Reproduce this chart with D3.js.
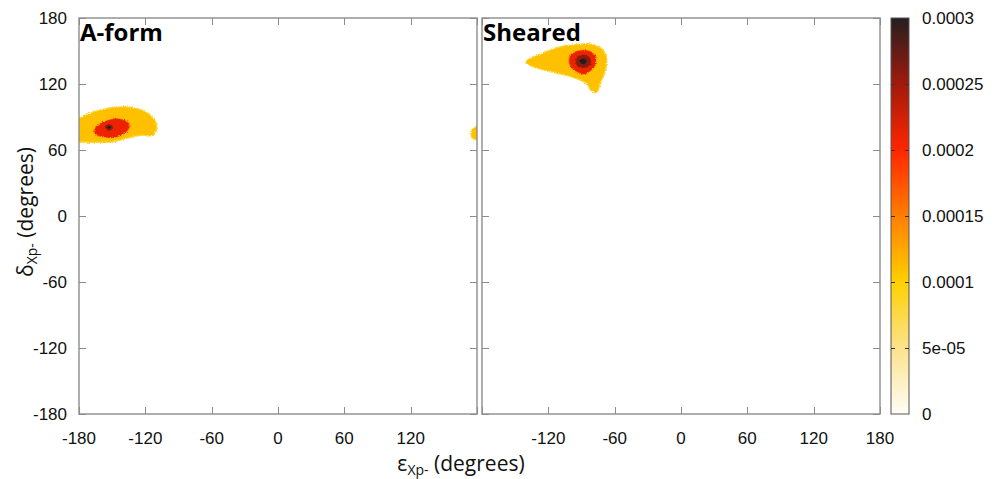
<!DOCTYPE html>
<html>
<head>
<meta charset="utf-8">
<script src="https://cdn.jsdelivr.net/npm/d3@7"></script>
<style>
  html, body { margin: 0; padding: 0; background: #fff; }
  svg { display: block; }
</style>
</head>
<body>
<svg id="chart" width="995" height="479"></svg>
<script>
// ---- Data -------------------------------------------------------------
// Density contours (epsilon, delta in degrees) with the density level each encloses.
const aformOuter = [[-186, 87], [-180, 88.5], [-165, 94.5], [-147, 98.3], [-129, 97.5], [-118, 93],
  [-111, 85], [-110.5, 78], [-115, 73.5], [-123, 74], [-137, 71], [-152, 67.8], [-167, 67.6], [-180, 68], [-186, 68]];
const aformWrap = [[186, 81], [179, 80.5], [176, 78], [175, 74.5], [176.3, 71.2], [179, 69.8], [186, 69.5]];
const aformRed = [[-166, 77.8], [-161, 83.8], [-150, 88], [-141, 87.6], [-134.6, 83.4], [-135.8, 78.2],
  [-146, 71.8], [-157, 71.8], [-163.5, 73.6]];
const aformDark = [[-156.5, 81.5], [-153, 83.3], [-149.5, 81.5], [-150.5, 78.5], [-154.5, 78]];
const aformCore = [[-154.3, 80.8], [-152.6, 81.8], [-151.2, 80.4], [-152.8, 79.3]];

const shearedOuter = [[-140, 140], [-128, 146.2], [-117, 150.8], [-107.5, 153.6], [-96.8, 155], [-82.3, 155.9],
  [-73.3, 152.7], [-68.1, 145.5], [-67.8, 138.2], [-69.6, 130], [-73.3, 121.8], [-76.5, 113], [-81, 114.5],
  [-85, 120.9], [-96.8, 126.4], [-108.5, 129.5], [-121.2, 132.7], [-133, 136]];
const shearedRed = [[-100.4, 145.5], [-95.9, 149.1], [-88.6, 150.5], [-81.4, 149.1], [-77.3, 144.5],
  [-77.8, 137.3], [-82.3, 131.8], [-87.7, 129.1], [-95, 131.8], [-100.4, 137.3]];
const shearedDark = [[-95, 142.5], [-89, 146.5], [-82.5, 144], [-82, 137.5], [-88, 134.5], [-94, 136.5]];
const shearedCore = [[-91.5, 141.5], [-88.5, 143.2], [-85.5, 141.5], [-86.5, 138.5], [-90, 138.3]];

const aformContours = [
  { level: 0.00011, pts: aformOuter, edge: true },
  { level: 0.00011, pts: aformWrap, edge: true },
  { level: 0.00015, pts: aformRed, grow: 1.06 },
  { level: 0.00021, pts: aformRed },
  { level: 0.00026, pts: aformDark },
  { level: 0.00030, pts: aformCore }
];
const shearedContours = [
  { level: 0.00011, pts: shearedOuter, edge: true },
  { level: 0.00015, pts: shearedRed, grow: 1.06 },
  { level: 0.00021, pts: shearedRed },
  { level: 0.00026, pts: shearedDark },
  { level: 0.00030, pts: shearedCore }
];

const panelTitles = ["A-form", "Sheared"];
const yTicks = [-180, -120, -60, 0, 60, 120, 180];
const xTicksLeft = [-180, -120, -60, 0, 60, 120];
const xTicksRight = [-120, -60, 0, 60, 120, 180];
const cbTicks = [0, 0.00005, 0.0001, 0.00015, 0.0002, 0.00025, 0.0003];
const cbLabels = ["0", "5e-05", "0.0001", "0.00015", "0.0002", "0.00025", "0.0003"];

// ---- Palette ------------------------------------------------------------
const palette = d3.scaleLinear()
  .domain([0, 0.00005, 0.0001, 0.00015, 0.0002, 0.00025, 0.0003])
  .range(["#fffdf6", "#fbe28c", "#ffd000", "#ff7e00", "#ff2600", "#a21a0c", "#231f20"])
  .interpolate(d3.interpolateRgb)
  .clamp(true);

// ---- Layout -------------------------------------------------------------
const svg = d3.select("#chart");
const plotTop = 18, plotBottom = 414;
const panels = [
  { x0: 79, x1: 477, contours: aformContours, title: panelTitles[0], xTicks: xTicksLeft, yLabels: true },
  { x0: 482, x1: 880, contours: shearedContours, title: panelTitles[1], xTicks: xTicksRight, yLabels: false }
];
const frameColor = "#8c8c8c";
const labelFont = "'Liberation Sans', Arial, sans-serif";
const titleFont = "'Open Sans', 'Noto Sans', sans-serif";
const tickFontSize = 17;

const y = d3.scaleLinear().domain([-180, 180]).range([plotBottom, plotTop]);

const defs = svg.append("defs");
// Grainy edge for the density clouds
const grain = defs.append("filter").attr("id", "grain")
  .attr("x", "-10%").attr("y", "-10%").attr("width", "120%").attr("height", "120%");
grain.append("feTurbulence").attr("type", "fractalNoise").attr("baseFrequency", 0.9)
  .attr("numOctaves", 2).attr("seed", 3).attr("result", "noise");
grain.append("feDisplacementMap").attr("in", "SourceGraphic").attr("in2", "noise")
  .attr("scale", 3).attr("xChannelSelector", "R").attr("yChannelSelector", "G");

panels.forEach((p, i) => {
  const x = d3.scaleLinear().domain([-180, 180]).range([p.x0, p.x1]);
  const clipId = "clip" + i;
  defs.append("clipPath").attr("id", clipId)
    .append("rect").attr("x", p.x0).attr("y", plotTop).attr("width", p.x1 - p.x0).attr("height", plotBottom - plotTop);

  const g = svg.append("g").attr("clip-path", `url(#${clipId})`);
  const line = d3.line().curve(d3.curveCatmullRomClosed.alpha(0.5));
  const cloud = g.append("g").attr("filter", "url(#grain)");
  p.contours.forEach(c => {
    let pts = c.pts;
    if (c.grow) {
      const cx = d3.mean(pts, d => d[0]), cy = d3.mean(pts, d => d[1]);
      pts = pts.map(d => [cx + (d[0] - cx) * c.grow, cy + (d[1] - cy) * c.grow]);
    }
    const d = line(pts.map(q => [x(q[0]), y(q[1])]));
    if (c.edge) {
      // paler fringe where the density thins out
      cloud.append("path").attr("d", d).attr("fill", "none")
        .attr("stroke", palette(0.00008)).attr("stroke-width", 2.5).attr("stroke-linejoin", "round");
    }
    cloud.append("path").attr("d", d).attr("fill", palette(c.level));
  });

  // frame
  const f = svg.append("g");
  f.append("rect").attr("x", p.x0).attr("y", plotTop).attr("width", p.x1 - p.x0).attr("height", plotBottom - plotTop)
    .attr("fill", "none").attr("stroke", frameColor).attr("stroke-width", 1.4);

  const tl = 7;
  const allX = [-180, -120, -60, 0, 60, 120, 180];
  allX.forEach(t => {
    const xx = Math.round(x(t)) + 0.5;
    f.append("line").attr("x1", xx).attr("x2", xx).attr("y1", plotBottom).attr("y2", plotBottom - tl).attr("stroke", frameColor);
    f.append("line").attr("x1", xx).attr("x2", xx).attr("y1", plotTop).attr("y2", plotTop + tl).attr("stroke", frameColor);
  });
  yTicks.forEach(t => {
    const yy = Math.round(y(t)) + 0.5;
    f.append("line").attr("x1", p.x0).attr("x2", p.x0 + tl).attr("y1", yy).attr("y2", yy).attr("stroke", frameColor);
    f.append("line").attr("x1", p.x1).attr("x2", p.x1 - tl).attr("y1", yy).attr("y2", yy).attr("stroke", frameColor);
  });

  // tick labels
  p.xTicks.forEach(t => {
    svg.append("text").attr("x", x(t)).attr("y", plotBottom + 30)
      .attr("text-anchor", "middle").attr("font-family", labelFont).attr("font-size", tickFontSize)
      .attr("fill", "#111").text(t);
  });
  if (p.yLabels) {
    yTicks.forEach(t => {
      svg.append("text").attr("x", p.x0 - 12).attr("y", y(t) + 6)
        .attr("text-anchor", "end").attr("font-family", labelFont).attr("font-size", tickFontSize)
        .attr("fill", "#111").text(t);
    });
  }

  // panel title
  svg.append("text").attr("x", p.x0 + 1).attr("y", plotTop + 23)
    .attr("font-family", titleFont).attr("font-weight", 700).attr("font-size", 24)
    .attr("fill", "#000").text(p.title);
});

// ---- Axis titles --------------------------------------------------------
const axisFont = "'Open Sans', 'Noto Sans', sans-serif";
const xt = svg.append("text").attr("x", 461).attr("y", 471).attr("text-anchor", "middle")
  .attr("font-family", axisFont).attr("font-size", 21).attr("fill", "#111");
xt.append("tspan").text("ε");
xt.append("tspan").attr("font-size", 14).attr("dy", 4).text("Xp-");
xt.append("tspan").attr("dy", -4).text(" (degrees)");

const yt = svg.append("text").attr("transform", "translate(33,212) rotate(-90)").attr("text-anchor", "middle")
  .attr("font-family", axisFont).attr("font-size", 21).attr("fill", "#111");
yt.append("tspan").text("δ");
yt.append("tspan").attr("font-size", 14).attr("dy", 4).text("Xp-");
yt.append("tspan").attr("dy", -4).text(" (degrees)");

// ---- Colour bar ---------------------------------------------------------
const cbX = 891, cbW = 18;
const cbScale = d3.scaleLinear().domain([0, 0.0003]).range([plotBottom, plotTop]);
const bands = d3.range(0, plotBottom - plotTop);
svg.append("g").selectAll("rect").data(bands).join("rect")
  .attr("x", cbX).attr("width", cbW)
  .attr("y", d => plotTop + d).attr("height", 1.2)
  .attr("fill", d => palette(cbScale.invert(plotTop + d + 0.5)));
svg.append("rect").attr("x", cbX).attr("y", plotTop).attr("width", cbW).attr("height", plotBottom - plotTop)
  .attr("fill", "none").attr("stroke", "#555").attr("stroke-width", 1);
cbTicks.forEach((t, i) => {
  const yy = Math.round(cbScale(t)) + 0.5;
  if (i > 0 && i < cbTicks.length - 1) {
    svg.append("line").attr("x1", cbX).attr("x2", cbX + 4).attr("y1", yy).attr("y2", yy).attr("stroke", "#333");
    svg.append("line").attr("x1", cbX + cbW).attr("x2", cbX + cbW - 4).attr("y1", yy).attr("y2", yy).attr("stroke", "#333");
  }
  svg.append("text").attr("x", cbX + cbW + 13).attr("y", cbScale(t) + 6)
    .attr("font-family", labelFont).attr("font-size", tickFontSize).attr("fill", "#111").text(cbLabels[i]);
});
</script>
</body>
</html>
